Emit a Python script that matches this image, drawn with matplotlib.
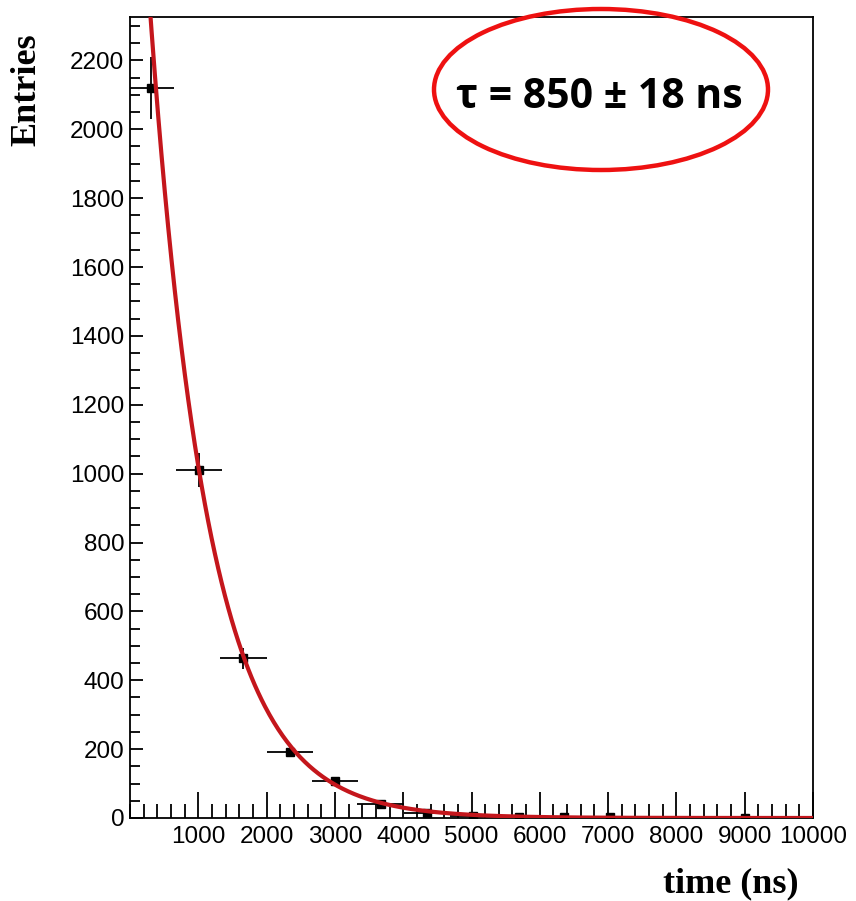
import numpy as np
import matplotlib.pyplot as plt
from matplotlib.patches import Ellipse
from matplotlib.ticker import MultipleLocator

# histogram bin centres (ns) and counts
time_ns = [310, 1010, 1660, 2340, 3000, 3670, 4350, 5020, 5690, 6360, 7030, 9010]
entries = [2119, 1010, 464, 191, 107, 40, 14, 6, 3, 2, 2, 1]
entries_err = [90, 50, 30, 14, 10, 6, 4, 3, 2, 1, 1, 1]
bin_half = 340

# exponential fit parameters
fit_amp = 3313
fit_tau = 850
fit_start, fit_stop = 250, 10000

plt.rcParams['font.family'] = ['Liberation Sans', 'DejaVu Sans']

fig = plt.figure(figsize=(8.56, 9.01), dpi=100)
ax = fig.add_axes([130 / 856, 1 - 818 / 901, 683 / 856, 801 / 901])

ax.errorbar(time_ns, entries, xerr=bin_half, yerr=entries_err, fmt='s',
            color='black', ms=6, elinewidth=1.3, capsize=0, zorder=3)

t = np.linspace(fit_start, fit_stop, 600)
ax.plot(t, fit_amp * np.exp(-t / fit_tau), color='#c4161c', lw=3, zorder=4)

ax.set_xlim(0, 10000)
ax.set_ylim(0, 2326)
ax.xaxis.set_major_locator(MultipleLocator(1000))
ax.xaxis.set_minor_locator(MultipleLocator(200))
ax.yaxis.set_major_locator(MultipleLocator(200))
ax.yaxis.set_minor_locator(MultipleLocator(50))
ax.set_xticks(np.arange(1000, 10001, 1000))

ax.tick_params(axis='x', which='major', direction='in', length=19, width=1.3,
               labelsize=17.5, pad=6)
ax.tick_params(axis='x', which='minor', direction='in', length=10, width=1.3)
ax.tick_params(axis='y', which='major', direction='in', length=9, width=1.3,
               labelsize=17.5, pad=4)
ax.tick_params(axis='y', which='minor', direction='in', length=7, width=1.3)
for s in ax.spines.values():
    s.set_linewidth(1.3)

fig.text(27 / 856, 1 - 90 / 901, 'Entries', rotation=90, ha='center', va='center',
         family='Liberation Serif', weight='bold', fontsize=26)
fig.text(731 / 856, 1 - 884 / 901, 'time (ns)', ha='center', va='center',
         family='Liberation Serif', weight='bold', fontsize=26)

fig.text(599 / 856, 1 - 97 / 901, 'τ = 850 ± 18 ns', ha='center', va='center',
         family=['Open Sans', 'DejaVu Sans'], weight='bold', fontsize=29.5)
fig.patches.append(Ellipse((601 / 856, 1 - 89.5 / 901), 334 / 856, 161 / 901,
                           transform=fig.transFigure, fill=False,
                           edgecolor='#ee1111', lw=3.2))

fig.savefig('out.png', dpi=100)
